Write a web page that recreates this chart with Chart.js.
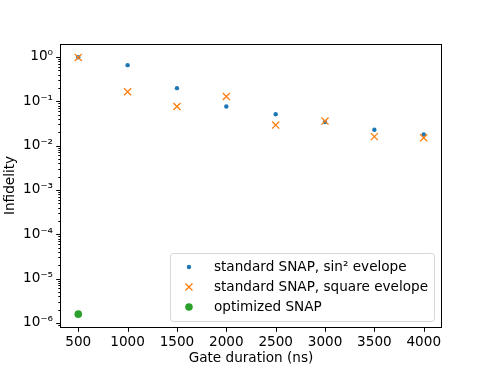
<!DOCTYPE html>
<html>
<head>
<meta charset="utf-8">
<script src="https://cdn.jsdelivr.net/npm/chart.js@4.4.1/dist/chart.umd.min.js"></script>
<style>
  html, body { margin: 0; padding: 0; background: #fff; }
  #wrap { width: 490px; height: 368px; }
</style>
</head>
<body>
<div id="wrap"><canvas id="plot" width="490" height="368"></canvas></div>
<script>
// gate durations in ns
const durations = [500, 1000, 1500, 2000, 2500, 3000, 3500, 4000];
const sinSqInfidelity = [0.98, 0.65, 0.197, 0.076, 0.051, 0.034, 0.0227, 0.0178];
const squareInfidelity = [0.97, 0.163, 0.076, 0.128, 0.029, 0.0356, 0.0159, 0.015];
const optDurations = [500];
const optInfidelity = [1.58e-6];

const xTicks = [500, 1000, 1500, 2000, 2500, 3000, 3500, 4000];
const yTicks = [1e-6, 1e-5, 1e-4, 1e-3, 1e-2, 1e-1, 1];
const yTickLabels = ['10\u207B\u2076', '10\u207B\u2075', '10\u207B\u2074', '10\u207B\u00B3', '10\u207B\u00B2', '10\u207B\u00B9', '10\u2070'];

const FONT = 'DejaVu Sans';
const FS = 13.6;
Chart.defaults.font.family = FONT;
Chart.defaults.font.size = FS;
Chart.defaults.color = '#000';

function pts(xs, ys) {
  return xs.map((x, i) => ({x: x, y: ys[i]}));
}

const datasets = [
  {
    label: 'standard SNAP, sin\u00B2 evelope',
    data: pts(durations, sinSqInfidelity),
    pointStyle: 'circle',
    pointRadius: 2.2,
    backgroundColor: '#1f77b4',
    borderColor: '#1f77b4',
    borderWidth: 0,
    order: 3
  },
  {
    label: 'standard SNAP, square evelope',
    data: pts(durations, squareInfidelity),
    pointStyle: 'crossRot',
    pointRadius: 5,
    backgroundColor: '#ff7f0e',
    borderColor: '#ff7f0e',
    borderWidth: 1.3,
    order: 2
  },
  {
    label: 'optimized SNAP',
    data: pts(optDurations, optInfidelity),
    pointStyle: 'circle',
    pointRadius: 3.8,
    backgroundColor: '#2ca02c',
    borderColor: '#2ca02c',
    borderWidth: 0,
    order: 1
  }
];

// box around the axes + outward tick marks (major and log minor)
const framePlugin = {
  id: 'frame',
  afterDatasetsDraw(chart) {
    const {ctx, chartArea: a, scales} = chart;
    ctx.save();
    ctx.strokeStyle = '#000';
    ctx.lineWidth = 1;
    ctx.beginPath();
    xTicks.forEach(v => {
      const px = Math.round(scales.x.getPixelForValue(v)) + 0.5;
      ctx.moveTo(px, a.bottom);
      ctx.lineTo(px, a.bottom + 4.8);
    });
    const ys = scales.y;
    for (let e = -7; e <= 0; e++) {
      for (let k = 1; k <= 9; k++) {
        const v = k * Math.pow(10, e);
        if (v < ys.min || v > ys.max) continue;
        const py = Math.round(ys.getPixelForValue(v)) + 0.5;
        ctx.moveTo(a.left, py);
        ctx.lineTo(a.left - (k === 1 ? 4.8 : 2.7), py);
      }
    }
    ctx.stroke();
    ctx.strokeRect(Math.round(a.left) - 0.5, Math.round(a.top) + 0.5,
      Math.round(a.right - a.left) + 1, Math.round(a.bottom - a.top));
    ctx.restore();
  }
};

// matplotlib-style legend in the lower right of the axes
const legendPlugin = {
  id: 'mplLegend',
  afterDraw(chart) {
    const {ctx, chartArea: a} = chart;
    ctx.save();
    ctx.font = FS + 'px "' + FONT + '"';
    const items = chart.data.datasets;
    const textW = Math.max(...items.map(d => ctx.measureText(d.label).width));
    const rowH = 20;
    const w = 44 + textW + 6;
    const h = items.length * rowH + 8;
    const right = a.right - 7;
    const bottom = a.bottom - 6;
    const left = right - w;
    const top = bottom - h;
    ctx.beginPath();
    ctx.roundRect(left + 0.5, top + 0.5, w, h, 3);
    ctx.fillStyle = 'rgba(255,255,255,0.8)';
    ctx.fill();
    ctx.strokeStyle = '#d6d6d6';
    ctx.lineWidth = 1;
    ctx.stroke();
    items.forEach((d, i) => {
      const cy = top + 14 + i * rowH;
      ctx.fillStyle = d.backgroundColor;
      ctx.strokeStyle = d.borderColor;
      ctx.lineWidth = d.borderWidth;
      Chart.helpers.drawPoint(ctx, {
        pointStyle: d.pointStyle,
        radius: d.pointRadius,
        borderWidth: d.borderWidth,
        rotation: 0
      }, left + 19, cy);
      ctx.fillStyle = '#000';
      ctx.textBaseline = 'middle';
      ctx.textAlign = 'left';
      ctx.fillText(d.label, left + 44, cy);
    });
    ctx.restore();
  }
};

new Chart(document.getElementById('plot'), {
  type: 'scatter',
  data: {datasets: datasets},
  options: {
    responsive: false,
    animation: false,
    layout: {padding: {top: 44, right: 49, left: 0, bottom: 0}},
    plugins: {
      legend: {display: false},
      tooltip: {enabled: false}
    },
    scales: {
      x: {
        type: 'linear',
        min: 325,
        max: 4175,
        afterBuildTicks: s => { s.ticks = xTicks.map(v => ({value: v})); },
        afterFit: s => { s.height = 41; },
        grid: {display: false, drawTicks: false},
        border: {display: false},
        ticks: {padding: 7, maxRotation: 0, autoSkip: false, callback: v => String(v)},
        title: {display: true, text: 'Gate duration (ns)', padding: {top: 0, bottom: 1}}
      },
      y: {
        type: 'logarithmic',
        min: 8.1e-7,
        max: 1.95,
        afterBuildTicks: s => { s.ticks = yTicks.map(v => ({value: v, major: true})); },
        afterFit: s => { s.width = 61; },
        grid: {display: false, drawTicks: false},
        border: {display: false},
        ticks: {
          padding: 8,
          autoSkip: false,
          callback: (v, i) => yTickLabels[i]
        },
        title: {display: true, text: 'Infidelity', padding: {top: 2, bottom: 0}}
      }
    }
  },
  plugins: [framePlugin, legendPlugin]
});
</script>
</body>
</html>
